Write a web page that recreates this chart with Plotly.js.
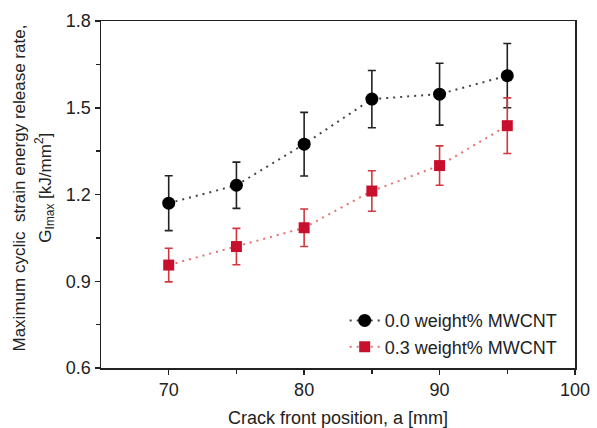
<!DOCTYPE html>
<html>
<head>
<meta charset="utf-8">
<script src="https://cdn.plot.ly/plotly-3.0.1.min.js"></script>
<style>html,body{margin:0;padding:0;background:#fff;}#chart{width:597px;height:428px;}</style>
</head>
<body>
<div id="chart"></div>
<script>
const crackPos = [70, 75, 80, 85, 90, 95];
const g00 = [1.170, 1.232, 1.374, 1.530, 1.547, 1.611];
const g00err = [0.095, 0.080, 0.110, 0.099, 0.107, 0.111];
const g03 = [0.956, 1.020, 1.085, 1.212, 1.300, 1.438];
const g03err = [0.058, 0.063, 0.065, 0.070, 0.068, 0.096];
const seriesNames = ['0.0 weight% MWCNT', '0.3 weight% MWCNT'];
const yTitleLines = ['Maximum cyclic  strain energy release rate,', 'G<sub>Imax</sub> [kJ/mm<sup>2</sup>]'];

const font = 'Liberation Sans, Arial, sans-serif';
const traces = [
  {
    x: crackPos, y: g00, name: seriesNames[0], type: 'scatter', mode: 'lines+markers',
    line: {color: '#444444', dash: '2px,5px', width: 2},
    marker: {symbol: 'circle', size: 13, color: '#000000'},
    error_y: {type: 'data', array: g00err, visible: true, color: '#222222', thickness: 1.6, width: 4}
  },
  {
    x: crackPos, y: g03, name: seriesNames[1], type: 'scatter', mode: 'lines+markers',
    line: {color: '#e87070', dash: '2px,5px', width: 2},
    marker: {symbol: 'square', size: 11, color: '#c8102e'},
    error_y: {type: 'data', array: g03err, visible: true, color: '#d2373f', thickness: 1.6, width: 4}
  }
];

const layout = {
  width: 597, height: 428,
  margin: {l: 101, r: 22, t: 21, b: 60},
  paper_bgcolor: '#ffffff', plot_bgcolor: '#ffffff',
  font: {family: font, color: '#222222', size: 17},
  showlegend: true,
  legend: {x: 0.974, y: 0.008, xanchor: 'right', yanchor: 'bottom', bgcolor: 'rgba(0,0,0,0)',
           font: {family: font, size: 18, color: '#222222'}, tracegroupgap: 0},
  xaxis: {
    range: [65, 100], tickvals: [70, 80, 90, 100], ticks: 'outside', ticklen: 5, tickwidth: 1.5,
    tickcolor: '#222', showline: true, linecolor: '#222', linewidth: 1.5, mirror: true,
    showgrid: false, zeroline: false, tickfont: {size: 18, family: font, color: '#222'},
    minor: {tickvals: [75, 85, 95], ticks: 'outside', ticklen: 4, tickwidth: 1.5, tickcolor: '#222', showgrid: false},
    title: {text: 'Crack front position, a [mm]', font: {size: 18, family: font, color: '#222'}, standoff: 13}
  },
  yaxis: {
    range: [0.6, 1.8], tickvals: [0.6, 0.9, 1.2, 1.5, 1.8], ticktext: ['0.6','0.9','1.2','1.5','1.8'],
    ticks: 'outside', ticklen: 5, tickwidth: 1.5,
    tickcolor: '#222', showline: true, linecolor: '#222', linewidth: 1.5, mirror: true,
    showgrid: false, zeroline: false, tickfont: {size: 18, family: font, color: '#222'},
    minor: {tickvals: [0.75, 1.05, 1.35, 1.65], ticks: 'outside', ticklen: 4, tickwidth: 1.5, tickcolor: '#222', showgrid: false}
  },
  annotations: [
    {text: yTitleLines[0], textangle: -90, xref: 'paper', yref: 'paper', x: -0.171, y: 0.52,
     xanchor: 'center', yanchor: 'middle', showarrow: false, font: {size: 17, family: font, color: '#222'}},
    {text: yTitleLines[1], textangle: -90, xref: 'paper', yref: 'paper', x: -0.118, y: 0.52,
     xanchor: 'center', yanchor: 'middle', showarrow: false, font: {size: 17, family: font, color: '#222'}}
  ]
};

Plotly.newPlot('chart', traces, layout, {displayModeBar: false, staticPlot: true});
</script>
</body>
</html>
